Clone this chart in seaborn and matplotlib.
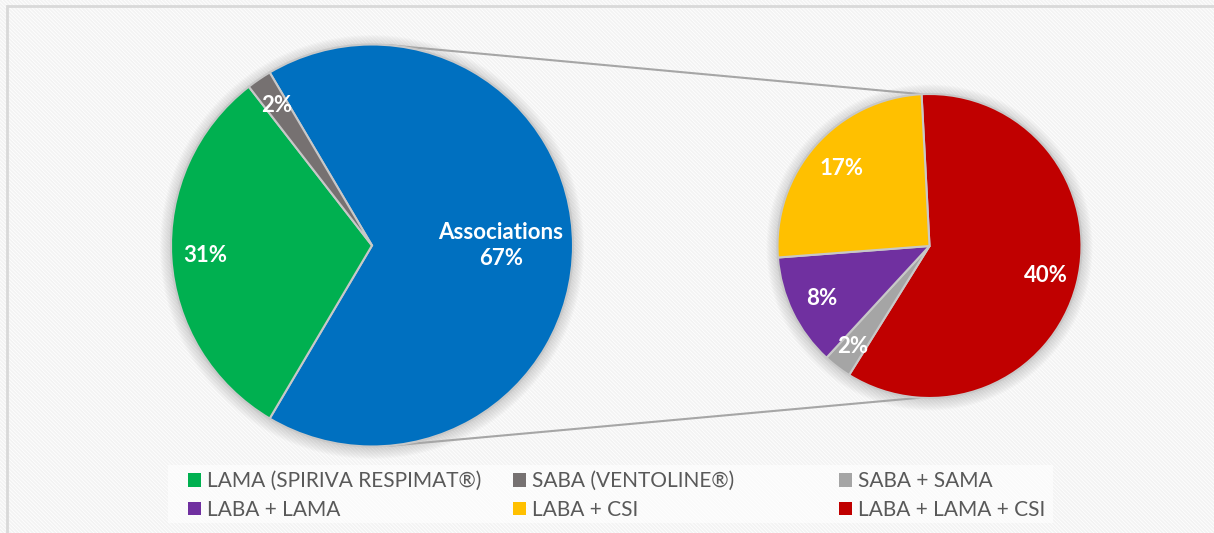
import numpy as np
import matplotlib
matplotlib.use("Agg")
import matplotlib.pyplot as plt
from matplotlib.patches import Rectangle, Circle, Patch
import seaborn as sns

sns.set_theme(style="white")
plt.rcParams["font.family"] = ["Lato", "DejaVu Sans"]
plt.rcParams["hatch.linewidth"] = 1.3

# data
main_labels = ["Associations", "LAMA (SPIRIVA RESPIMAT®)", "SABA (VENTOLINE®)"]
main_values = [67, 31, 2]
main_colors = ["#0070C0", "#00B050", "#767171"]

sub_labels = ["LABA + LAMA + CSI", "SABA + SAMA", "LABA + LAMA", "LABA + CSI"]
sub_values = [40, 2, 8, 17]
sub_colors = ["#C00000", "#A5A5A5", "#7030A0", "#FFC000"]

legend_order = [
    ["LAMA (SPIRIVA RESPIMAT®)", "LABA + LAMA"],
    ["SABA (VENTOLINE®)", "LABA + CSI"],
    ["SABA + SAMA", "LABA + LAMA + CSI"],
]

W, H = 1214, 533
fig = plt.figure(figsize=(W / 100, H / 100), dpi=100)
ax = fig.add_axes([0, 0, 1, 1])

# striped background and frame
ax.add_patch(Rectangle((0, 0), W, H, facecolor="white", edgecolor="#f3f3f3",
                       hatch="\\" * 9, lw=0, zorder=0))
ax.add_patch(Rectangle((7, -10), W + 20, H - 6 + 10, fill=False,
                       edgecolor="#d9d9d9", lw=2, zorder=0.5))

c1, r1 = (372, 287.5), 201
c2, r2 = (929.5, 287), 152

# soft shadows
for c, r in [(c1, r1), (c2, r2)]:
    for k in range(1, 12):
        ax.add_patch(Circle((c[0], c[1] - 1.5), r + k, color="#808080", alpha=0.028,
                            lw=0, zorder=1))

wp = dict(edgecolor="#c8c8c8", linewidth=1.5, zorder=2)
w1, _ = ax.pie(main_values, colors=main_colors, startangle=120.6, counterclock=False,
               center=c1, radius=r1, wedgeprops=wp, frame=True)
w2, _ = ax.pie(sub_values, colors=sub_colors, startangle=93, counterclock=False,
               center=c2, radius=r2, wedgeprops=wp, frame=True)
ax.set_xlim(0, W)
ax.set_ylim(0, H)
ax.set_aspect("equal")
ax.axis("off")

def put_labels(wedges, values, center, radius, fracs, names=None):
    for i, (w, v, f) in enumerate(zip(wedges, values, fracs)):
        mid = np.deg2rad((w.theta1 + w.theta2) / 2)
        x = center[0] + radius * f * np.cos(mid)
        y = center[1] + radius * f * np.sin(mid)
        txt = f"{v}%" if not names or not names[i] else f"{names[i]}\n{v}%"
        ax.text(x, y, txt, ha="center", va="center", color="white",
                fontsize=16, fontweight="bold", linespacing=1.35, zorder=3)

put_labels(w1, main_values, c1, r1, [0.64, 0.83, 0.84], ["Associations", None, None])
put_labels(w2, sub_values, c2, r2, [0.79, 0.83, 0.79, 0.77])

# connector lines
for a1, a2 in [(85, 93), (-85, -93.5)]:
    p1 = (c1[0] + r1 * np.cos(np.deg2rad(a1)), c1[1] + r1 * np.sin(np.deg2rad(a1)))
    p2 = (c2[0] + r2 * np.cos(np.deg2rad(a2)), c2[1] + r2 * np.sin(np.deg2rad(a2)))
    ax.plot([p1[0], p2[0]], [p1[1], p2[1]], color="#a6a6a6", lw=1.5, zorder=1.5)

# legend
ax.add_patch(Rectangle((168, 10), 885, 58, facecolor="white", alpha=0.6, lw=0, zorder=1))
color_of = dict(zip(main_labels + sub_labels, main_colors + sub_colors))
for x0, col in zip([188, 513, 839], legend_order):
    handles = [Patch(facecolor=color_of[n], edgecolor="none", label=n) for n in col]
    fig.legend(handles=handles, loc="center left", bbox_to_anchor=(x0 / W, (H - 495.5) / H),
               frameon=False, fontsize=15, labelcolor="#595959", handlelength=0.62,
               handleheight=0.62, handletextpad=0.3, borderpad=0, borderaxespad=0,
               labelspacing=0.42)

fig.savefig("out.png", dpi=100)
